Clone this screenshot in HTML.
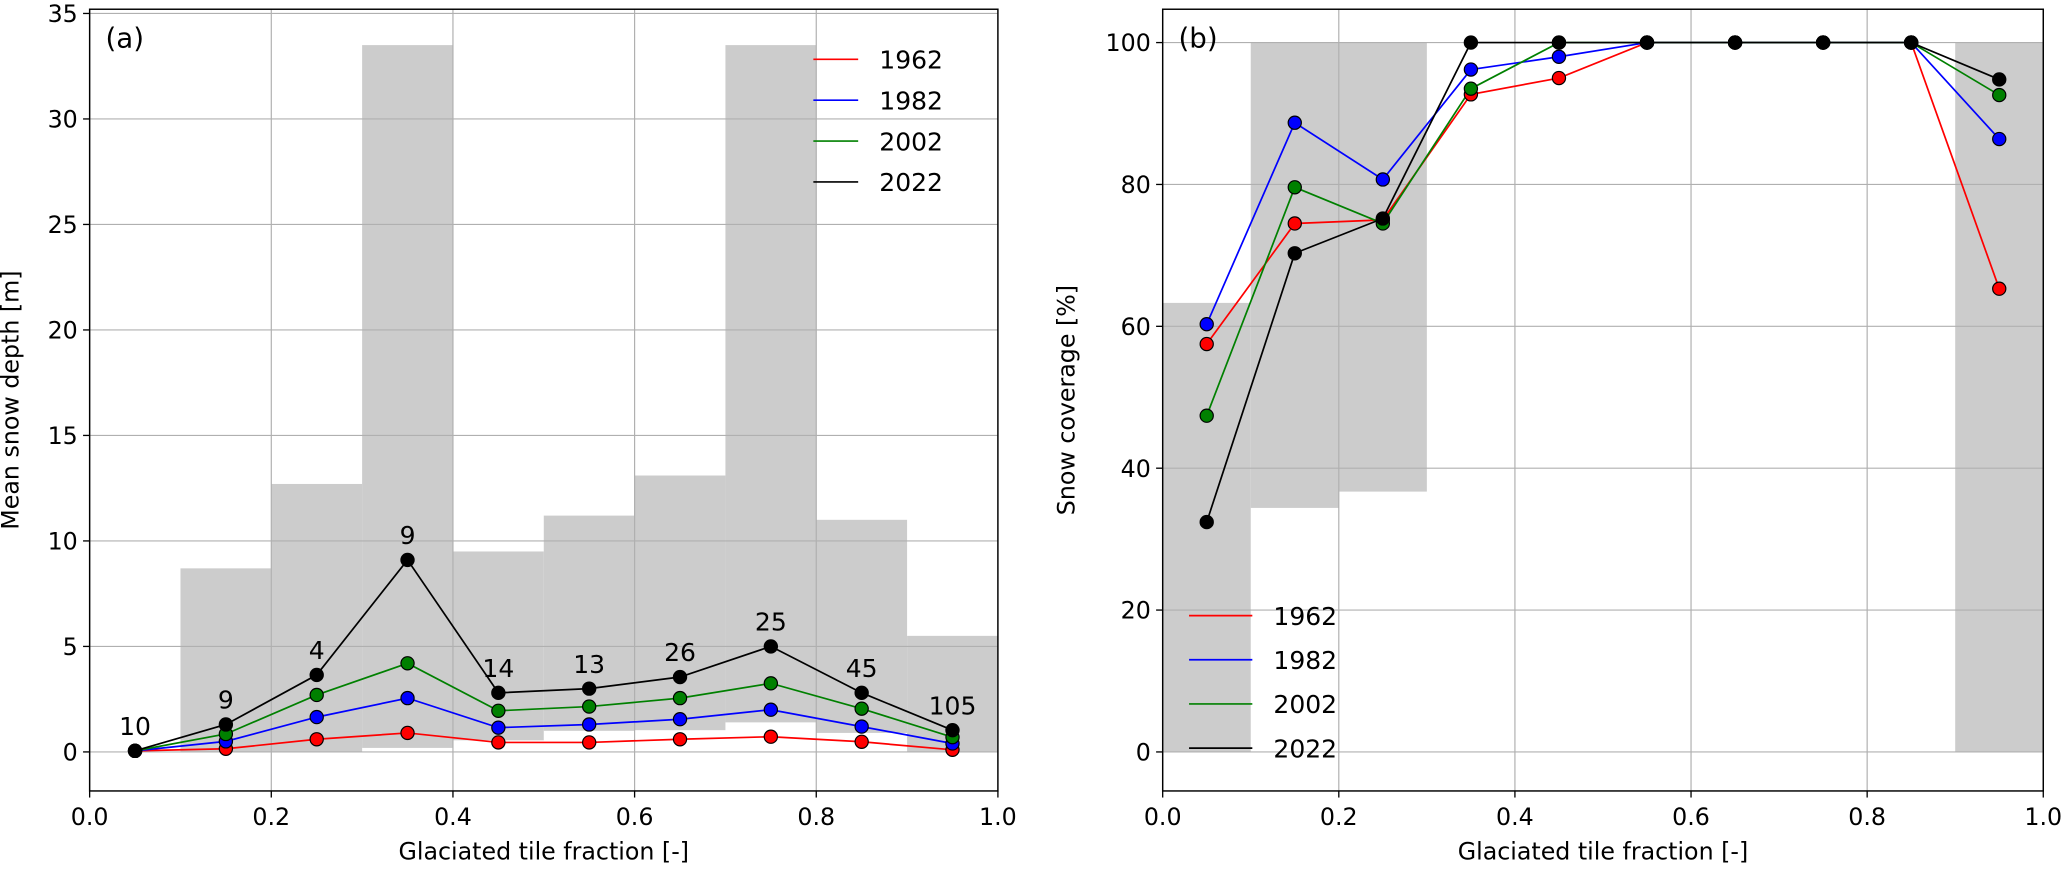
<!DOCTYPE html>
<html><head><meta charset="utf-8">
<style>
html,body{margin:0;padding:0;background:#fff;}
svg{display:block;font-family:"DejaVu Sans","Liberation Sans",sans-serif;}
</style></head>
<body>
<svg id="fig" width="2067" height="869" viewBox="0 0 1568 659.2" xmlns="http://www.w3.org/2000/svg"></svg>
<script>
// ---- Panel (a) data ----
const xCenters = [0.05,0.15,0.25,0.35,0.45,0.55,0.65,0.75,0.85,0.95];
const years = ['1962','1982','2002','2022'];
const colors = ['#ff0000','#0000ff','#008000','#000000'];
const depth1962 = [0.05,0.15,0.6,0.9,0.45,0.45,0.6,0.72,0.48,0.1];
const depth1982 = [0.05,0.5,1.65,2.55,1.15,1.3,1.55,2.0,1.2,0.4];
const depth2002 = [0.05,0.85,2.7,4.2,1.95,2.15,2.55,3.25,2.05,0.7];
const depth2022 = [0.05,1.3,3.65,9.1,2.8,3.0,3.55,5.0,2.8,1.03];
const counts = ['10','9','4','9','14','13','26','25','45','105'];
const rangeALow = [0,0,0,0.19,0.55,1.0,1.03,1.4,0.9,0];
const rangeAHigh = [0,8.7,12.7,33.5,9.5,11.2,13.1,33.5,11.0,5.5];
const yTicksA = [0,5,10,15,20,25,30,35];
const xTicks = [0.0,0.2,0.4,0.6,0.8,1.0];
const xTickLabels = ['0.0','0.2','0.4','0.6','0.8','1.0'];
// ---- Panel (b) data ----
const cov1962 = [57.5,74.5,75.0,92.7,95.0,100,100,100,100,65.3];
const cov1982 = [60.3,88.7,80.7,96.2,98.0,100,100,100,100,86.4];
const cov2002 = [47.4,79.6,74.5,93.5,100,100,100,100,100,92.6];
const cov2022 = [32.4,70.3,75.2,100,100,100,100,100,100,94.8];
const rangeBLow = [0,34.4,36.7,null,null,null,null,null,null,0];
const rangeBHigh = [63.3,100,100,null,null,null,null,null,null,100];
const yTicksB = [0,20,40,60,80,100];

const NS='http://www.w3.org/2000/svg';
const svg=document.getElementById('fig');
function mk(tag,attrs,parent){const e=document.createElementNS(NS,tag);for(const k in attrs)e.setAttribute(k,attrs[k]);(parent||svg).appendChild(e);return e;}

function panel(cfg){
  const g=mk('g',{});
  
  
  const L=cfg.L,R=cfg.R,T=7,B=600;
  const sx=v=>L+(v-0)*(R-L)/1.0;
  const sy=v=>B-(v-cfg.ymin)*(B-T)/(cfg.ymax-cfg.ymin);
  for(let i=0;i<xCenters.length;i++){
    if(cfg.low[i]===null) continue;
    if(cfg.high[i]-cfg.low[i]<=0) continue;
    const r=mk('rect',{x:sx(xCenters[i]-0.05),y:sy(cfg.high[i]),width:sx(xCenters[i]+0.05)-sx(xCenters[i]-0.05),height:sy(cfg.low[i])-sy(cfg.high[i]),fill:'#cccccc'},g);
    
    
  }
  xTicks.forEach(t=>{const l=mk('line',{x1:sx(t),x2:sx(t),y1:T,y2:B,stroke:'#b0b0b0','stroke-width':0.9},g);});
  cfg.yt.forEach(t=>{const l=mk('line',{x1:L,x2:R,y1:sy(t),y2:sy(t),stroke:'#b0b0b0','stroke-width':0.9},g);});
  cfg.series.forEach((s,k)=>{
    const pts=s.map((v,i)=>sx(xCenters[i])+','+sy(v)).join(' ');
    const pl=mk('polyline',{points:pts,fill:'none',stroke:colors[k],'stroke-width':1.3},g);
    
    
  });
  cfg.series.forEach((s,k)=>{
    s.forEach((v,i)=>{
      const c=mk('circle',{cx:sx(xCenters[i]),cy:sy(v),r:5,fill:colors[k],stroke:'#000','stroke-width':0.9},g);
      
      
    });
  });
  if(cfg.labels){
    cfg.labels.forEach((t,i)=>{
      const tx=mk('text',{x:sx(xCenters[i]),y:sy(cfg.series[3][i])-12,'text-anchor':'middle','font-size':19,fill:'#000'},g);
      tx.textContent=t;
      
      
    });
  }
  const fr=mk('rect',{x:L,y:T,width:R-L,height:B-T,fill:'none',stroke:'#000','stroke-width':1.1},g);
  
  
  xTicks.forEach((t,i)=>{
    mk('line',{x1:sx(t),x2:sx(t),y1:B,y2:B+5,stroke:'#000','stroke-width':1},g);
    const tx=mk('text',{x:sx(t),y:B+26,'text-anchor':'middle','font-size':18},g);
    tx.textContent=xTickLabels[i];
    
    
  });
  cfg.yt.forEach(t=>{
    mk('line',{x1:L-5,x2:L,y1:sy(t),y2:sy(t),stroke:'#000','stroke-width':1},g);
    const tx=mk('text',{x:L-9,y:sy(t)+6.5,'text-anchor':'end','font-size':18},g);
    tx.textContent=String(t);
    
    
  });
  const xl=mk('text',{x:(L+R)/2,y:B+52,'text-anchor':'middle','font-size':18},g);
  xl.textContent='Glaciated tile fraction [-]';
  
  
  const yl=mk('text',{x:cfg.ylx,y:(T+B)/2,'text-anchor':'middle','font-size':18,transform:`rotate(-90 ${cfg.ylx} ${(T+B)/2})`},g);
  yl.textContent=cfg.ytitle;
  
  
  const pt=mk('text',{x:L+12,y:36,'font-size':21},g);
  pt.textContent=cfg.tag;
  
  
  years.forEach((y,k)=>{
    const yy=cfg.legY+k*cfg.legS;
    const ln=mk('line',{x1:cfg.legX,x2:cfg.legX+cfg.legW,y1:yy,y2:yy,stroke:colors[k],'stroke-width':1.3},g);
    
    
    const tx=mk('text',{x:cfg.legX+cfg.legW+16,y:yy+7,'font-size':19},g);
    tx.textContent=y;
    
    
  });
}

panel({name:'panel-a-snow-depth',L:68,R:757,ymin:-1.85,ymax:35.2,yt:yTicksA,low:rangeALow,high:rangeAHigh,
  series:[depth1962,depth1982,depth2002,depth2022],labels:counts,ylx:14,ytitle:'Mean snow depth [m]',tag:'(a)',
  legX:617,legW:34,legY:45,legS:31});
panel({name:'panel-b-snow-coverage',L:882,R:1550,ymin:-5.5,ymax:104.7,yt:yTicksB,low:rangeBLow,high:rangeBHigh,
  series:[cov1962,cov1982,cov2002,cov2022],labels:null,ylx:815,ytitle:'Snow coverage [%]',tag:'(b)',
  legX:902,legW:48,legY:467,legS:33.5});
</script>
</body></html>
